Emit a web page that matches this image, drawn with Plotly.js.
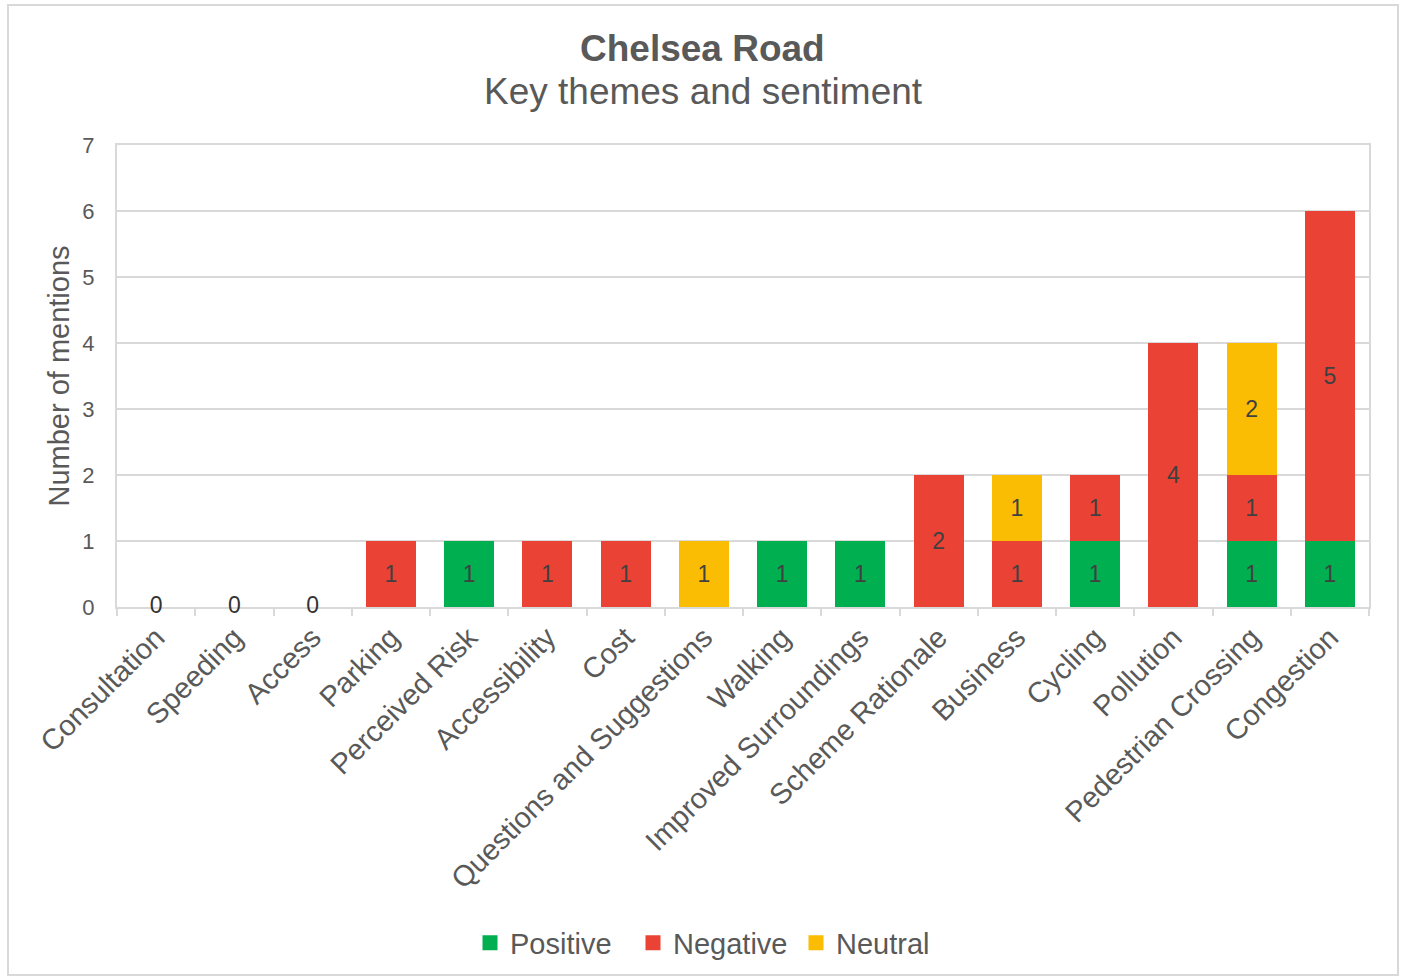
<!DOCTYPE html>
<html>
<head>
<meta charset="utf-8">
<script src="https://cdn.plot.ly/plotly-3.0.1.min.js"></script>
<style>
html,body{margin:0;padding:0;background:#fff;}
#chart{width:1403px;height:980px;}
</style>
</head>
<body>
<div id="chart"></div>
<script>
const categories = ["Consultation","Speeding","Access","Parking","Perceived Risk","Accessibility","Cost","Questions and Suggestions","Walking","Improved Surroundings","Scheme Rationale","Business","Cycling","Pollution","Pedestrian Crossing","Congestion"];
const positive = [0,0,0,0,1,0,0,0,1,1,0,0,1,0,1,1];
const negative = [0,0,0,1,0,1,1,0,0,0,2,1,1,4,1,5];
const neutral  = [0,0,0,0,0,0,0,1,0,0,0,1,0,0,2,0];
const seriesNames = ["Positive","Negative","Neutral"];
const yTicks = [0,1,2,3,4,5,6,7];
const titleText = "Chelsea Road";
const subtitleText = "Key themes and sentiment";

const colors = {Positive:"#00B050", Negative:"#EA4335", Neutral:"#FBBC04"};
const FONT = "Liberation Sans, Arial, sans-serif";
const labelFont = {family:FONT, size:23, color:"#404040"};

function barTrace(name, vals){
  return {
    type:"bar", name:name, x:categories, y:vals, showlegend:false,
    marker:{color:colors[name], line:{width:0}},
    text: vals.map(v => v > 0 ? String(v) : ""),
    textposition:"inside", insidetextanchor:"middle",
    textfont:labelFont, hoverinfo:"x+y+name"
  };
}

const totals = categories.map((c,i)=>positive[i]+negative[i]+neutral[i]);
const zeroCats = categories.filter((c,i)=>totals[i]===0);

const legendTraces = seriesNames.map(n => ({
  type:"scatter", mode:"markers", name:n, x:[null], y:[null],
  marker:{symbol:"square", size:15, color:colors[n]}, hoverinfo:"skip"
}));

const traces = [
  barTrace("Positive", positive),
  barTrace("Negative", negative),
  barTrace("Neutral", neutral),
  {type:"scatter", mode:"text", x:zeroCats, y:zeroCats.map(()=>0), text:zeroCats.map(()=>"0"),
   textposition:"middle center", textfont:{family:FONT, size:23, color:"#333333"},
   showlegend:false, hoverinfo:"skip", cliponaxis:false},
  ...legendTraces
];

const grey = "#595959";
const layout = {
  width:1403, height:980,
  font:{family:FONT, color:grey},
  paper_bgcolor:"#ffffff", plot_bgcolor:"#ffffff",
  margin:{l:117, r:34, t:145, b:373},
  barmode:"stack", bargap:0.36,
  xaxis:{type:"category", range:[-0.5, categories.length-0.5], tickangle:-45, tickfont:{size:29, color:grey},
         showline:true, linecolor:"#d9d9d9", linewidth:2, mirror:true, layer:"below traces",
         ticks:"outside", tickson:"boundaries", ticklen:7, tickcolor:"#d9d9d9", tickwidth:2,
         showgrid:false, zeroline:false, fixedrange:true},
  yaxis:{range:[0,7], tickvals:yTicks, ticktext:yTicks.map(String), tickfont:{size:22, color:grey},
         showline:true, linecolor:"#d9d9d9", linewidth:2, mirror:true, layer:"below traces",
         gridcolor:"#d9d9d9", gridwidth:2, zeroline:false, ticks:"", ticklabelstandoff:16,
         title:{text:"Number of mentions", font:{size:29, color:grey}, standoff:4}},
  legend:{orientation:"h", x:(470-117)/1252, xanchor:"left", y:(607-943)/462, yanchor:"middle",
          font:{size:29, color:grey}, itemwidth:30, entrywidth:118, traceorder:"normal"},
  annotations:[
    {text:"<b>"+titleText+"</b>", xref:"paper", yref:"paper", x:(702-117)/1252, y:(607-48)/462,
     xanchor:"center", yanchor:"middle", showarrow:false, font:{size:37, color:grey}},
    {text:subtitleText, xref:"paper", yref:"paper", x:(703-117)/1252, y:(607-92)/462,
     xanchor:"center", yanchor:"middle", showarrow:false, font:{size:37, color:grey}}
  ],
  shapes:[{type:"rect", xref:"paper", yref:"paper",
           x0:(8-117)/1252, x1:(1398-117)/1252, y0:(607-975)/462, y1:(607-5)/462,
           line:{color:"#d9d9d9", width:2}, fillcolor:"rgba(0,0,0,0)", layer:"below"}]
};

Plotly.newPlot("chart", traces, layout, {displayModeBar:false, staticPlot:true});
</script>
</body>
</html>
